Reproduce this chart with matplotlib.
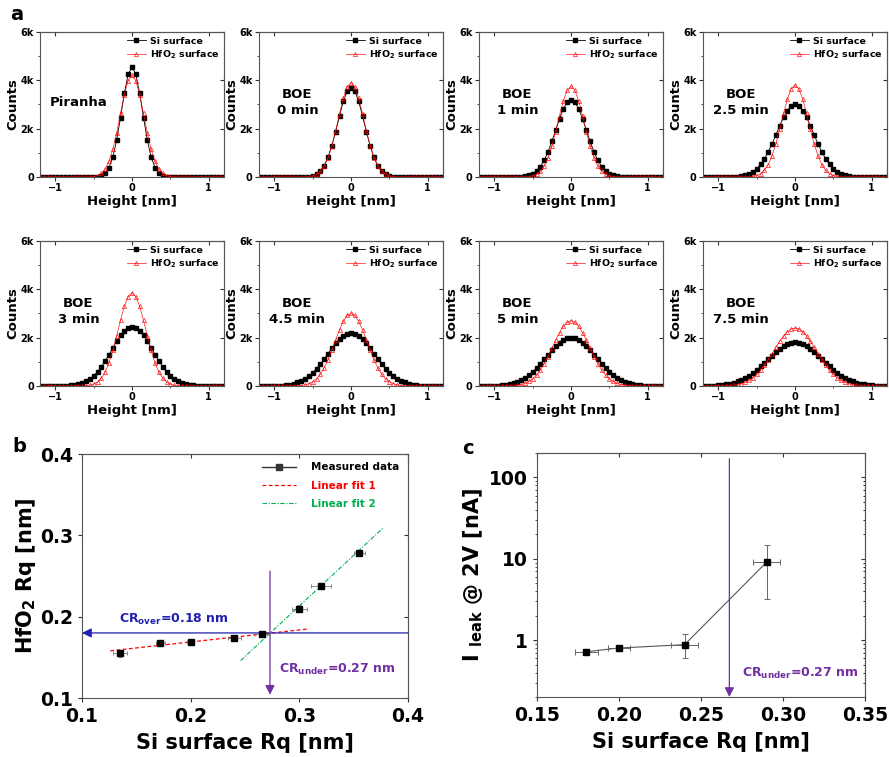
import matplotlib
matplotlib.use('Agg')
import matplotlib.pyplot as plt
from matplotlib.lines import Line2D

plt.rcParams['font.family'] = 'DejaVu Sans'
plt.rcParams['font.weight'] = 'bold'
plt.rcParams['axes.labelweight'] = 'bold'
plt.rcParams['mathtext.fontset'] = 'dejavusans'

#### Data
# height bins [nm]
height = [-1.2, -1.15, -1.1, -1.05, -1.0, -0.95, -0.9, -0.85, -0.8, -0.75, -0.7, -0.65,
          -0.6, -0.55, -0.5, -0.45, -0.4, -0.35, -0.3, -0.25, -0.2, -0.15, -0.1, -0.05,
          0.0, 0.05, 0.1, 0.15, 0.2, 0.25, 0.3, 0.35, 0.4, 0.45, 0.5, 0.55,
          0.6, 0.65, 0.7, 0.75, 0.8, 0.85, 0.9, 0.95, 1.0, 1.05, 1.1, 1.15, 1.2]

# counts [k]
si_piranha = [0, 0, 0, 0, 0, 0, 0, 0, 0, 0, 0, 0, 0, 0, 0,
              0.02, 0.05, 0.16, 0.39, 0.82, 1.52, 2.46, 3.46, 4.25, 4.55, 4.25, 3.46, 2.46, 1.52, 0.82, 0.39, 0.16, 0.05, 0.02,
              0, 0, 0, 0, 0, 0, 0, 0, 0, 0, 0, 0, 0, 0, 0]
hf_piranha = [0, 0, 0, 0, 0, 0, 0, 0, 0, 0, 0, 0, 0, 0,
              0.02, 0.06, 0.15, 0.33, 0.65, 1.14, 1.83, 2.63, 3.41, 3.99, 4.2, 3.99, 3.41, 2.63, 1.83, 1.14, 0.65, 0.33, 0.15, 0.06, 0.02,
              0, 0, 0, 0, 0, 0, 0, 0, 0, 0, 0, 0, 0, 0]
si_boe0 = [0, 0, 0, 0, 0, 0, 0, 0, 0, 0, 0, 0, 0,
           0.02, 0.05, 0.12, 0.25, 0.47, 0.81, 1.29, 1.88, 2.53, 3.13, 3.55, 3.7, 3.55, 3.13, 2.53, 1.88, 1.29, 0.81, 0.47, 0.25, 0.12, 0.05, 0.02,
           0, 0, 0, 0, 0, 0, 0, 0, 0, 0, 0, 0, 0]
hf_boe0 = [0, 0, 0, 0, 0, 0, 0, 0, 0, 0, 0, 0, 0,
           0.02, 0.05, 0.11, 0.23, 0.44, 0.79, 1.29, 1.92, 2.62, 3.27, 3.73, 3.9, 3.73, 3.27, 2.62, 1.92, 1.29, 0.79, 0.44, 0.23, 0.11, 0.05, 0.02,
           0, 0, 0, 0, 0, 0, 0, 0, 0, 0, 0, 0, 0]
si_boe1 = [0, 0, 0, 0, 0, 0, 0, 0, 0, 0, 0,
           0.02, 0.04, 0.07, 0.14, 0.26, 0.43, 0.69, 1.04, 1.47, 1.94, 2.42, 2.82, 3.1, 3.2, 3.1, 2.82, 2.42, 1.94, 1.47, 1.04, 0.69, 0.43, 0.26, 0.14, 0.07, 0.04, 0.02,
           0, 0, 0, 0, 0, 0, 0, 0, 0, 0, 0]
hf_boe1 = [0, 0, 0, 0, 0, 0, 0, 0, 0, 0, 0, 0, 0,
           0.02, 0.05, 0.12, 0.24, 0.45, 0.79, 1.27, 1.88, 2.54, 3.15, 3.59, 3.75, 3.59, 3.15, 2.54, 1.88, 1.27, 0.79, 0.45, 0.24, 0.12, 0.05, 0.02,
           0, 0, 0, 0, 0, 0, 0, 0, 0, 0, 0, 0, 0]
si_boe25 = [0, 0, 0, 0, 0, 0, 0, 0,
            0.01, 0.02, 0.04, 0.08, 0.13, 0.22, 0.34, 0.52, 0.75, 1.04, 1.37, 1.74, 2.12, 2.47, 2.75, 2.94, 3.0,
            2.94, 2.75, 2.47, 2.12, 1.74, 1.37, 1.04, 0.75, 0.52, 0.34, 0.22, 0.13, 0.08, 0.04, 0.02, 0.01,
            0, 0, 0, 0, 0, 0, 0, 0]
hf_boe25 = [0, 0, 0, 0, 0, 0, 0, 0, 0, 0, 0, 0, 0,
            0.03, 0.06, 0.14, 0.28, 0.51, 0.87, 1.37, 1.98, 2.63, 3.23, 3.65, 3.8, 3.65, 3.23, 2.63, 1.98, 1.37, 0.87, 0.51, 0.28, 0.14, 0.06, 0.03,
            0, 0, 0, 0, 0, 0, 0, 0, 0, 0, 0, 0, 0]
si_boe3 = [0, 0, 0, 0, 0, 0, 0,
           0.01, 0.03, 0.05, 0.08, 0.13, 0.2, 0.29, 0.42, 0.59, 0.8, 1.04, 1.3, 1.58, 1.85, 2.09, 2.28, 2.41, 2.45,
           2.41, 2.28, 2.09, 1.85, 1.58, 1.3, 1.04, 0.8, 0.59, 0.42, 0.29, 0.2, 0.13, 0.08, 0.05, 0.03, 0.01,
           0, 0, 0, 0, 0, 0, 0]
hf_boe3 = [0, 0, 0, 0, 0, 0, 0, 0, 0, 0, 0, 0,
           0.01, 0.03, 0.08, 0.17, 0.33, 0.58, 0.96, 1.47, 2.08, 2.72, 3.3, 3.7, 3.85, 3.7, 3.3, 2.72, 2.08, 1.47, 0.96, 0.58, 0.33, 0.17, 0.08, 0.03, 0.01,
           0, 0, 0, 0, 0, 0, 0, 0, 0, 0, 0, 0]
si_boe45 = [0, 0, 0, 0, 0,
            0.01, 0.02, 0.04, 0.06, 0.1, 0.15, 0.21, 0.3, 0.41, 0.55, 0.72, 0.9, 1.11, 1.34, 1.56, 1.76, 1.94, 2.08, 2.17, 2.2,
            2.17, 2.08, 1.94, 1.76, 1.56, 1.34, 1.11, 0.9, 0.72, 0.55, 0.41, 0.3, 0.21, 0.15, 0.1, 0.06, 0.04, 0.02, 0.01,
            0, 0, 0, 0, 0]
hf_boe45 = [0, 0, 0, 0, 0, 0, 0, 0, 0, 0,
            0.01, 0.02, 0.05, 0.1, 0.18, 0.3, 0.49, 0.75, 1.08, 1.48, 1.91, 2.33, 2.68, 2.92, 3.0,
            2.92, 2.68, 2.33, 1.91, 1.48, 1.08, 0.75, 0.49, 0.3, 0.18, 0.1, 0.05, 0.02, 0.01,
            0, 0, 0, 0, 0, 0, 0, 0, 0, 0]
si_boe5 = [0, 0, 0, 0,
           0.01, 0.02, 0.04, 0.06, 0.09, 0.13, 0.18, 0.25, 0.34, 0.46, 0.59, 0.74, 0.92, 1.1, 1.29, 1.47, 1.65, 1.79, 1.9, 1.98, 2.0,
           1.98, 1.9, 1.79, 1.65, 1.47, 1.29, 1.1, 0.92, 0.74, 0.59, 0.46, 0.34, 0.25, 0.18, 0.13, 0.09, 0.06, 0.04, 0.02, 0.01,
           0, 0, 0, 0]
hf_boe5 = [0, 0, 0, 0, 0, 0, 0, 0,
           0.01, 0.02, 0.04, 0.06, 0.11, 0.19, 0.3, 0.45, 0.66, 0.92, 1.22, 1.56, 1.9, 2.21, 2.47, 2.64, 2.7,
           2.64, 2.47, 2.21, 1.9, 1.56, 1.22, 0.92, 0.66, 0.45, 0.3, 0.19, 0.11, 0.06, 0.04, 0.02, 0.01,
           0, 0, 0, 0, 0, 0, 0, 0]
si_boe75 = [0,
            0.01, 0.01, 0.02, 0.03, 0.05, 0.07, 0.1, 0.14, 0.19, 0.26, 0.34, 0.43, 0.54, 0.67, 0.81, 0.95, 1.11, 1.26, 1.4, 1.54, 1.65, 1.73, 1.78, 1.8,
            1.78, 1.73, 1.65, 1.54, 1.4, 1.26, 1.11, 0.95, 0.81, 0.67, 0.54, 0.43, 0.34, 0.26, 0.19, 0.14, 0.1, 0.07, 0.05, 0.03, 0.02, 0.01, 0.01,
            0]
hf_boe75 = [0, 0, 0, 0, 0, 0,
            0.01, 0.02, 0.04, 0.06, 0.1, 0.16, 0.23, 0.34, 0.48, 0.65, 0.85, 1.08, 1.34, 1.6, 1.85, 2.07, 2.25, 2.36, 2.4,
            2.36, 2.25, 2.07, 1.85, 1.6, 1.34, 1.08, 0.85, 0.65, 0.48, 0.34, 0.23, 0.16, 0.1, 0.06, 0.04, 0.02, 0.01,
            0, 0, 0, 0, 0, 0]

panel_labels = ['Piranha', 'BOE\n0 min', 'BOE\n1 min', 'BOE\n2.5 min',
                'BOE\n3 min', 'BOE\n4.5 min', 'BOE\n5 min', 'BOE\n7.5 min']
si_hists = [si_piranha, si_boe0, si_boe1, si_boe25, si_boe3, si_boe45, si_boe5, si_boe75]
hf_hists = [hf_piranha, hf_boe0, hf_boe1, hf_boe25, hf_boe3, hf_boe45, hf_boe5, hf_boe75]

# panel b: roughness
si_rq = [0.135, 0.172, 0.200, 0.240, 0.266, 0.300, 0.320, 0.355]
hf_rq = [0.155, 0.168, 0.169, 0.174, 0.179, 0.210, 0.238, 0.278]
si_rq_err = [0.0065, 0.004, 0.003, 0.006, 0.007, 0.007, 0.009, 0.005]
hf_rq_err = [0.004, 0.003, 0.003, 0.004, 0.003, 0.004, 0.003, 0.003]
fit1_x = [0.126, 0.309]
fit1_y = [0.158, 0.185]
fit2_x = [0.246, 0.377]
fit2_y = [0.146, 0.309]
cr_over = 0.18
cr_under_b = 0.273

# panel c: leakage
leak_x = [0.18, 0.20, 0.24, 0.29]
leak_y = [0.72, 0.80, 0.88, 9.1]
leak_xerr = [0.007, 0.007, 0.008, 0.008]
leak_yerr_lo = [0.05, 0.03, 0.28, 5.85]
leak_yerr_hi = [0.05, 0.04, 0.30, 5.8]
cr_under_c = 0.2673

#### Plot
W, H = 889, 757
fig = plt.figure(figsize=(W / 100, H / 100), dpi=100)

spine_col = '#555555'
purple = '#7030a0'
blue = '#2020b0'
green = '#00b050'


def px_axes(left, top, width, height):
    return fig.add_axes([left / W, 1 - (top + height) / H, width / W, height / H])


def style_axes(ax, labelsize):
    for s in ax.spines.values():
        s.set_color(spine_col)
        s.set_linewidth(0.8)
    ax.tick_params(which='both', direction='out', colors='#333333', labelsize=labelsize,
                   labelcolor='black')
    ax.tick_params(which='major', length=3)
    ax.tick_params(which='minor', length=1.5)


def mirror_ticks(ax, log=False):
    sx = ax.secondary_xaxis('top')
    sx.set_xticks(ax.get_xticks(), labels=[])
    sx.tick_params(direction='in', length=3, colors='#333333')
    sy = ax.secondary_yaxis('right')
    sy.set_yticks(ax.get_yticks(), labels=[])
    sy.tick_params(direction='in', length=3, colors='#333333')
    if log:
        sy.tick_params(which='minor', direction='in', length=1.5, labelright=False)
        sy.yaxis.set_minor_formatter(plt.NullFormatter())
    for s in list(sx.spines.values()) + list(sy.spines.values()):
        s.set_color(spine_col)
        s.set_linewidth(0.8)


lefts = [40, 259, 479, 703]
tops = [32, 241]
for i in range(8):
    row, col = divmod(i, 4)
    ax = px_axes(lefts[col], tops[row], 184, 145)
    ax.plot(height, si_hists[i], color='black', marker='s', ms=2.2, lw=0.6,
            label='Si surface')
    ax.plot(height, hf_hists[i], color='red', marker='^', ms=3, mfc='none', mew=0.5,
            lw=0.5, alpha=0.9, label=r'HfO$_\mathbf{2}$ surface')
    ax.set_xlim(-1.2, 1.2)
    ax.set_ylim(0, 6)
    ax.set_xticks([-1, 0, 1])
    ax.set_xticks([-0.5, 0.5], minor=True)
    ax.set_yticks([0, 2, 4, 6], labels=['0', '2k', '4k', '6k'])
    ax.set_yticks([1, 3, 5], minor=True)
    style_axes(ax, 7)
    ax.tick_params(pad=1.5)
    mirror_ticks(ax)
    ax.set_xlabel('Height [nm]', fontsize=9.5, labelpad=1)
    ax.set_ylabel('Counts', fontsize=9.5, labelpad=1)
    ax.text(-0.7, 3.1, panel_labels[i], fontsize=9.5, fontweight='bold',
            ha='center', va='center', linespacing=1.3)
    ax.legend(loc='upper right', fontsize=6.8, frameon=False, handlelength=2.0,
              handletextpad=0.4, labelspacing=0.3, borderaxespad=0.3, borderpad=0.2)

# panel b
ax = px_axes(82, 454, 326, 244)
ax.errorbar(si_rq, hf_rq, xerr=si_rq_err, yerr=hf_rq_err, fmt='s', color='black',
            ms=4, ecolor='#777777', elinewidth=0.6, capsize=1.5, capthick=0.6, zorder=5)
ax.plot(fit1_x, fit1_y, color='red', ls='--', lw=0.9, dashes=(3, 2))
ax.plot(fit2_x, fit2_y, color=green, ls='-.', lw=0.8, dashes=(4, 1.5, 1, 1.5))
ax.annotate('', xy=(0.1, cr_over), xytext=(0.4, cr_over),
            arrowprops=dict(arrowstyle='-|>', color=blue, lw=0.9, mutation_scale=14,
                            shrinkA=0, shrinkB=0), zorder=3)
ax.annotate('', xy=(cr_under_b, 0.104), xytext=(cr_under_b, 0.256),
            arrowprops=dict(arrowstyle='-|>', color=purple, lw=0.9, mutation_scale=14,
                            shrinkA=0, shrinkB=0), zorder=3)
ax.text(0.134, 0.196, r'CR$_\mathbf{over}$=0.18 nm', color=blue, fontsize=9,
        fontweight='bold', va='center')
ax.text(0.281, 0.135, r'CR$_\mathbf{under}$=0.27 nm', color=purple, fontsize=9,
        fontweight='bold', va='center')
ax.set_xlim(0.1, 0.4)
ax.set_ylim(0.1, 0.4)
ax.set_xticks([0.1, 0.2, 0.3, 0.4])
ax.set_yticks([0.1, 0.2, 0.3, 0.4])
style_axes(ax, 13.5)
mirror_ticks(ax)
ax.set_xlabel('Si surface Rq [nm]', fontsize=15, labelpad=5)
ax.set_ylabel(r'HfO$_\mathbf{2}$ Rq [nm]', fontsize=15, labelpad=1)
handles = [Line2D([], [], color='#333333', marker='s', ms=5, lw=1),
           Line2D([], [], color='red', ls='--', lw=0.9, dashes=(3, 2)),
           Line2D([], [], color=green, ls='-.', lw=0.8, dashes=(4, 1.5, 1, 1.5))]
leg = ax.legend(handles, ['Measured data', 'Linear fit 1', 'Linear fit 2'],
                loc='upper right', fontsize=7.5, frameon=False, handlelength=3.2,
                handletextpad=1.5, labelspacing=0.8, borderaxespad=0.4)
for t, c in zip(leg.get_texts(), ['black', 'red', green]):
    t.set_color(c)

# panel c
ax = px_axes(537, 453, 328, 244)
ax.plot(leak_x, leak_y, color='#555555', lw=0.8)
ax.errorbar(leak_x, leak_y, xerr=leak_xerr, yerr=[leak_yerr_lo, leak_yerr_hi], fmt='s',
            color='black', ms=4, ecolor='#666666', elinewidth=0.7, capsize=2, capthick=0.7,
            zorder=5)
ax.annotate('', xy=(cr_under_c, 0.2), xytext=(cr_under_c, 170),
            arrowprops=dict(arrowstyle='-|>', color=purple, lw=0.9, mutation_scale=14,
                            shrinkA=0, shrinkB=0), zorder=3)
ax.text(0.2752, 0.39, r'CR$_\mathbf{under}$=0.27 nm', color=purple, fontsize=9,
        fontweight='bold', va='center')
ax.set_yscale('log')
ax.set_xlim(0.15, 0.35)
ax.set_ylim(0.2, 200)
ax.set_xticks([0.15, 0.20, 0.25, 0.30, 0.35], labels=['0.15', '0.20', '0.25', '0.30', '0.35'])
ax.set_yticks([1, 10, 100], labels=['1', '10', '100'])
ax.yaxis.set_minor_formatter(plt.NullFormatter())
style_axes(ax, 13.5)
mirror_ticks(ax, log=True)
ax.set_xlabel('Si surface Rq [nm]', fontsize=15, labelpad=5)
ax.set_ylabel(r'I $_\mathbf{leak}$ @ 2V [nA]', fontsize=15, labelpad=3)

# panel letters
fig.text(10 / W, 1 - 14 / H, 'a', fontsize=14, fontweight='bold', va='center')
fig.text(12 / W, 1 - 447 / H, 'b', fontsize=14, fontweight='bold', va='center')
fig.text(462 / W, 1 - 449 / H, 'c', fontsize=14, fontweight='bold', va='center')

fig.savefig('out.png', dpi=100)
